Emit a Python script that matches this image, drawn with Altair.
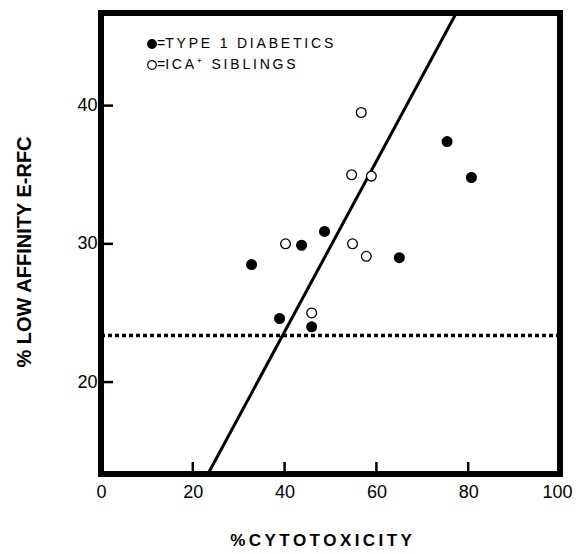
import altair as alt
import pandas as pd

# ---- data ----
diab_x = [32.8, 38.9, 43.7, 45.9, 48.7, 65.0, 75.4, 80.7]
diab_y = [28.5, 24.6, 29.9, 24.0, 30.9, 29.0, 37.4, 34.8]
sib_x = [40.2, 45.9, 54.6, 54.8, 56.7, 57.8, 58.9]
sib_y = [30.0, 25.0, 35.0, 30.0, 39.5, 29.1, 34.9]
fit_x = [23.3, 77.4]
fit_y = [13.35, 46.7]
ref_level = [23.37]
x_ticks = [0, 20, 40, 60, 80, 100]
x_inner_ticks = [20, 40, 60, 80]
y_ticks = [20, 30, 40]
x_domain = [0, 100]
y_domain = [13.35, 46.7]
groups = ["TYPE 1 DIABETICS", "ICA\u207a SIBLINGS"]

W, H = 459, 461
FONT = "Liberation Sans"


def spaced(s, sep="\u2009"):
    return sep.join(list(s))


pts = pd.DataFrame({
    "x": diab_x + sib_x,
    "y": diab_y + sib_y,
    "g": [groups[0]] * len(diab_x) + [groups[1]] * len(sib_x),
})
fit = pd.DataFrame({"x": fit_x, "y": fit_y})
ref = pd.DataFrame({"y": ref_level})
xt = pd.DataFrame({"x": x_inner_ticks})
yt = pd.DataFrame({"y": y_ticks})

xs = alt.Scale(domain=x_domain, nice=False, zero=False)
ys = alt.Scale(domain=y_domain, nice=False, zero=False)

x_axis = alt.Axis(values=x_ticks, ticks=False, domain=False, grid=False, title=None,
                  labelFontSize=18, labelFont=FONT, labelColor="black", labelPadding=9,
                  labelFlush=False, labelOverlap=False,
                  labelOffset={"condition": {"test": "datum.value === 100", "value": -3}, "value": 0})
y_axis = alt.Axis(values=y_ticks, ticks=False, domain=False, grid=False, title=None,
                  labelFontSize=18, labelFont=FONT, labelColor="black", labelPadding=4)

X = lambda f: alt.X(f, scale=xs, axis=x_axis)
Y = lambda f: alt.Y(f, scale=ys, axis=y_axis)

points = alt.Chart(pts).mark_point(filled=True, size=95, stroke="black", strokeWidth=1.3, opacity=1).encode(
    x=X("x:Q"),
    y=Y("y:Q"),
    fill=alt.Fill("g:N", scale=alt.Scale(domain=groups, range=["black", "white"]), legend=None),
)

line = alt.Chart(fit).mark_line(color="black", strokeWidth=3).encode(x=X("x:Q"), y=Y("y:Q"))

dotted = alt.Chart(ref).mark_rule(color="black", strokeWidth=3.5, strokeDash=[4, 3]).encode(y=Y("y:Q"))

xtick_marks = alt.Chart(xt).mark_rule(color="black", strokeWidth=2.5).encode(
    x=X("x:Q"), y=alt.value(H), y2=alt.value(H - 12),
)

ytick_marks = alt.Chart(yt).mark_rule(color="black", strokeWidth=2.5).encode(
    y=Y("y:Q"), x=alt.value(0), x2=alt.value(12),
)

leg_rows = [31, 52]
leg_fill = ["black", "white"]
leg_layers = []
for i, g in enumerate(groups):
    d = pd.DataFrame({"label": ["=" + spaced(g)]})
    leg_layers.append(
        alt.Chart(d).mark_point(filled=True, size=75, stroke="black", strokeWidth=1.2,
                                fill=leg_fill[i], opacity=1).encode(
            x=alt.value(51), y=alt.value(leg_rows[i]))
    )
    leg_layers.append(
        alt.Chart(d).mark_text(align="left", baseline="middle", fontSize=14, font=FONT,
                               color="black").encode(
            x=alt.value(56), y=alt.value(leg_rows[i]), text="label:N")
    )

xtitle = alt.Chart(pd.DataFrame({"t": ["%\u2009" + spaced("CYTOTOXICITY")]})).mark_text(
    align="center", baseline="alphabetic", fontSize=17, fontWeight="bold", font=FONT, color="black"
).encode(x=alt.value(220), y=alt.value(533), text="t:N")

ytitle = alt.Chart(pd.DataFrame({"t": ["% LOW AFFINITY  E-RFC"]})).mark_text(
    align="center", baseline="middle", fontSize=20, fontWeight="bold", font=FONT, color="black", angle=270
).encode(x=alt.value(-76), y=alt.value(239), text="t:N")

chart = alt.layer(
    dotted, line, xtick_marks, ytick_marks, points, *leg_layers, xtitle, ytitle
).properties(
    width=W, height=H,
    autosize=alt.AutoSizeParams(type="none"),
    padding={"left": 93, "top": 5, "right": 13, "bottom": 76},
    background="white",
).configure_view(stroke="black", strokeWidth=6)

chart.save("out.html", embed_options={"renderer": "svg", "actions": False})
